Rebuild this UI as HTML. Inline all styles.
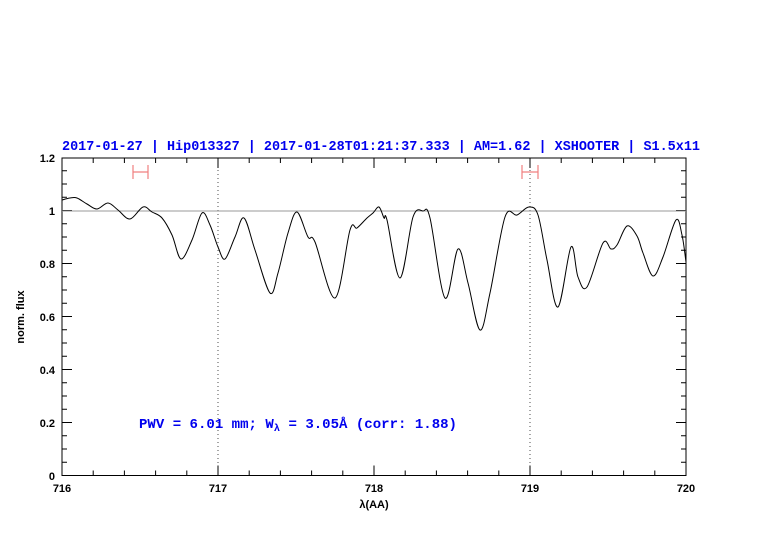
<!DOCTYPE html>
<html><head><meta charset="utf-8"><style>
body{margin:0;background:#fff;}
svg{display:block;}
text{font-family:"Liberation Sans",sans-serif;}
</style></head><body>
<svg width="782" height="542" viewBox="0 0 782 542" xmlns="http://www.w3.org/2000/svg">
<rect width="782" height="542" fill="#fff"/>
<text x="62" y="150" font-size="13.5" font-weight="bold" fill="#0000ee" textLength="638" lengthAdjust="spacingAndGlyphs" style="font-family:'Liberation Mono',monospace">2017-01-27 | Hip013327 | 2017-01-28T01:21:37.333 | AM=1.62 | XSHOOTER | S1.5x11</text>
<g stroke="#000" stroke-width="1" fill="none">
<rect x="62" y="158" width="624" height="317.5"/>
</g>
<g stroke="#000" stroke-width="1">
<path d="M93.2 475.5v-5M124.4 475.5v-5M155.6 475.5v-5M186.8 475.5v-5M249.2 475.5v-5M280.4 475.5v-5M311.6 475.5v-5M342.8 475.5v-5M405.2 475.5v-5M436.4 475.5v-5M467.6 475.5v-5M498.8 475.5v-5M561.2 475.5v-5M592.4 475.5v-5M623.6 475.5v-5M654.8 475.5v-5M218 475.5v-10M374 475.5v-10M530 475.5v-10
M93.2 158v5M124.4 158v5M155.6 158v5M186.8 158v5M249.2 158v5M280.4 158v5M311.6 158v5M342.8 158v5M405.2 158v5M436.4 158v5M467.6 158v5M498.8 158v5M561.2 158v5M592.4 158v5M623.6 158v5M654.8 158v5M218 158v10M374 158v10M530 158v10"/>
<path d="M62 462.3h5M62 449h5M62 435.8h5M62 409.3h5M62 396h5M62 382.8h5M62 356.3h5M62 343h5M62 329.8h5M62 303.3h5M62 290h5M62 276.8h5M62 250.3h5M62 237h5M62 223.8h5M62 197.3h5M62 184h5M62 170.8h5M62 422.5h10M62 369.5h10M62 316.5h10M62 263.5h10M62 210.5h10
M686 462.3h-5M686 449h-5M686 435.8h-5M686 409.3h-5M686 396h-5M686 382.8h-5M686 356.3h-5M686 343h-5M686 329.8h-5M686 303.3h-5M686 290h-5M686 276.8h-5M686 250.3h-5M686 237h-5M686 223.8h-5M686 197.3h-5M686 184h-5M686 170.8h-5M686 422.5h-10M686 369.5h-10M686 316.5h-10M686 263.5h-10M686 210.5h-10"/>
</g>
<g stroke="#000" stroke-width="0.7" stroke-dasharray="1,3">
<path d="M218 158V475M530 158V475"/>
</g>
<path d="M62 211H686" stroke="#999" stroke-width="1"/>
<g stroke="#f08080" stroke-width="1.2">
<path d="M133 172h15M133 165v14M148 165v14M522 172h16M522 165v14M538 165v14"/>
</g>
<path id="curve" fill="none" stroke="#000" stroke-width="1" stroke-linejoin="round" d=""/>
<g font-size="11" font-weight="bold" fill="#000" style="font-family:'Liberation Serif',serif">
<text x="55" y="480" text-anchor="end">0</text>
<text x="55" y="427" text-anchor="end">0.2</text>
<text x="55" y="374" text-anchor="end">0.4</text>
<text x="55" y="321" text-anchor="end">0.6</text>
<text x="55" y="268" text-anchor="end">0.8</text>
<text x="55" y="215" text-anchor="end">1</text>
<text x="55" y="162" text-anchor="end">1.2</text>
<text x="62" y="492" text-anchor="middle">716</text>
<text x="218" y="492" text-anchor="middle">717</text>
<text x="374" y="492" text-anchor="middle">718</text>
<text x="530" y="492" text-anchor="middle">719</text>
<text x="686" y="492" text-anchor="middle">720</text>
<text x="374" y="508" text-anchor="middle">λ(AA)</text>
<text transform="translate(24 317) rotate(-90)" text-anchor="middle">norm. flux</text>
</g>
<text x="139" y="428" font-size="13.5" font-weight="bold" fill="#0000ee" style="font-family:'Liberation Mono',monospace" textLength="318" lengthAdjust="spacingAndGlyphs">PWV = 6.01 mm; W<tspan font-size="10" dy="3">λ</tspan><tspan dy="-3"> = 3.05Å (corr: 1.88)</tspan></text>
</svg>
<script>
var p=[[62,200],[70,198],[77,198],[87,204],[97,209],[108,203],[118,210],[130,219],[143,207],[152,212],[162,218],[172,235],[181,259],[192,240],[202,213],[210,225],[218,247],[225,259],[235,237],[244,218],[255,250],[270,293],[278,273],[288,233],[297,212],[308,237],[315,242],[335,298],[350,230],[357,228],[367,218],[373,213],[379,207],[384,218],[387,220],[400,278],[413,217],[423,211],[430,218],[445,298],[458,249],[468,283],[480,330],[490,293],[505,217],[517,215],[529,207],[538,215],[547,260],[558,307],[571,247],[578,277],[587,287],[603,243],[611,249],[617,245],[627,226],[637,236],[643,253],[653,276],[663,257],[676,220],[682,235],[686,262]];
var d="M"+p[0][0]+" "+p[0][1];
for(var i=0;i<p.length-1;i++){var a=p[Math.max(0,i-1)],b=p[i],c=p[i+1],e=p[Math.min(p.length-1,i+2)];
d+=" C"+(b[0]+(c[0]-a[0])/6).toFixed(1)+" "+(b[1]+(c[1]-a[1])/6).toFixed(1)+" "+(c[0]-(e[0]-b[0])/6).toFixed(1)+" "+(c[1]-(e[1]-b[1])/6).toFixed(1)+" "+c[0]+" "+c[1];}
document.getElementById("curve").setAttribute("d",d);
</script>
</body></html>
